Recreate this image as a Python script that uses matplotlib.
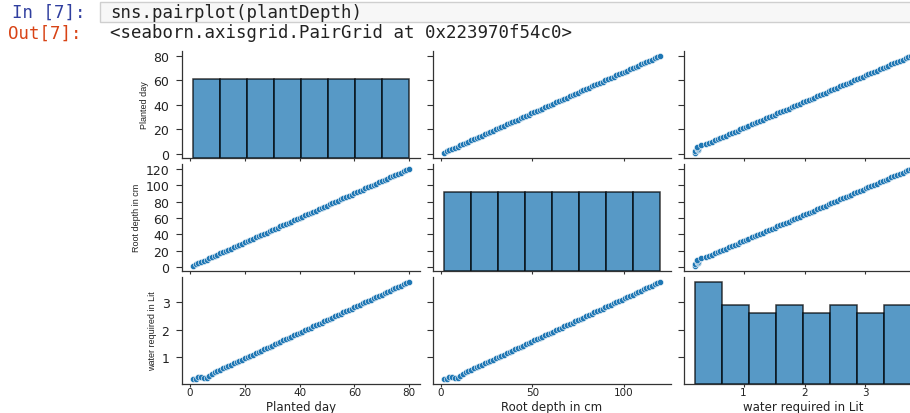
import matplotlib
matplotlib.use("Agg")
import matplotlib.pyplot as plt
from matplotlib.patches import Rectangle

# --- data ---
planted_day = [1, 2, 3, 4, 5, 6, 7, 8, 9, 10,
               11, 12, 13, 14, 15, 16, 17, 18, 19, 20,
               21, 22, 23, 24, 25, 26, 27, 28, 29, 30,
               31, 32, 33, 34, 35, 36, 37, 38, 39, 40,
               41, 42, 43, 44, 45, 46, 47, 48, 49, 50,
               51, 52, 53, 54, 55, 56, 57, 58, 59, 60,
               61, 62, 63, 64, 65, 66, 67, 68, 69, 70,
               71, 72, 73, 74, 75, 76, 77, 78, 79, 80]

root_depth = [1.5, 3.0, 4.5, 6.0, 7.5, 9.0, 10.5, 12.0, 13.5, 15.0,
              16.5, 18.0, 19.5, 21.0, 22.5, 24.0, 25.5, 27.0, 28.5, 30.0,
              31.5, 33.0, 34.5, 36.0, 37.5, 39.0, 40.5, 42.0, 43.5, 45.0,
              46.5, 48.0, 49.5, 51.0, 52.5, 54.0, 55.5, 57.0, 58.5, 60.0,
              61.5, 63.0, 64.5, 66.0, 67.5, 69.0, 70.5, 72.0, 73.5, 75.0,
              76.5, 78.0, 79.5, 81.0, 82.5, 84.0, 85.5, 87.0, 88.5, 90.0,
              91.5, 93.0, 94.5, 96.0, 97.5, 99.0, 100.5, 102.0, 103.5, 105.0,
              106.5, 108.0, 109.5, 111.0, 112.5, 114.0, 115.5, 117.0, 118.5, 120.0]

water_lit = [0.200, 0.205, 0.250, 0.255, 0.230, 0.235, 0.300,
             0.387, 0.434, 0.480, 0.527, 0.574, 0.620, 0.667, 0.714, 0.760, 0.807,
             0.854, 0.901, 0.947, 0.994, 1.041, 1.080, 1.134, 1.181, 1.228, 1.274,
             1.321, 1.368, 1.415, 1.461, 1.508, 1.555, 1.601, 1.648, 1.695, 1.741,
             1.788, 1.835, 1.881, 1.928, 1.968, 2.022, 2.068, 2.115, 2.162, 2.209,
             2.255, 2.302, 2.349, 2.395, 2.442, 2.489, 2.535, 2.582, 2.629, 2.676,
             2.722, 2.769, 2.816, 2.855, 2.909, 2.956, 3.003, 3.049, 3.096, 3.143,
             3.189, 3.236, 3.283, 3.330, 3.376, 3.423, 3.470, 3.516, 3.563, 3.610,
             3.657, 3.703, 3.750]

names = ["Planted day", "Root depth in cm", "water required in Lit"]
columns = [planted_day, root_depth, water_lit]
x_ticks = [[0, 20, 40, 60, 80], [0, 50, 100], [1, 2, 3]]
y_ticks = [[0, 20, 40, 60, 80], [0, 20, 40, 60, 80, 100, 120], [1, 2, 3]]

BLUE = "#1f77b4"
W, H = 910, 414

fig = plt.figure(figsize=(W / 100, H / 100), dpi=100)

# --- notebook cell header ---
fig.add_artist(Rectangle((100 / W, 1 - 23 / H), 815 / W, 20 / H,
                         transform=fig.transFigure, facecolor="#f7f7f7",
                         edgecolor="#cfcfcf", linewidth=1))
mono = "DejaVu Sans Mono"
fig.text(12 / W, 1 - 13 / H, "In [7]:", family=mono, size=12.5, color="#303F9F", va="center")
fig.text(110 / W, 1 - 13 / H, "sns.pairplot(plantDepth)", family=mono, size=12.5,
         color="#222222", va="center")
fig.text(8 / W, 1 - 33.5 / H, "Out[7]:", family=mono, size=12.5, color="#D84315", va="center")
fig.text(110 / W, 1 - 33.5 / H, "<seaborn.axisgrid.PairGrid at 0x223970f54c0>",
         family=mono, size=12.5, color="#222222", va="center")

# --- pair grid ---
col_left = [182, 433, 684]
row_top = [52, 165, 278]
aw, ah = 238, 106.5

axes = [[None] * 3 for _ in range(3)]
for r in range(3):
    for c in range(3):
        rect = [col_left[c] / W, 1 - (row_top[r] + ah) / H, aw / W, ah / H]
        ax = fig.add_axes(rect,
                          sharex=axes[0][c] if r > 0 else None,
                          sharey=axes[r][0] if c > 0 else None)
        axes[r][c] = ax

diag_axes = []
for r in range(3):
    for c in range(3):
        ax = axes[r][c]
        if r == c:
            dax = ax.twinx()
            dax.hist(columns[c], bins=8, color=BLUE, alpha=0.75,
                     edgecolor="black", linewidth=1.1)
            dax.set_axis_off()
            diag_axes.append(dax)
        else:
            ax.scatter(columns[c], columns[r], s=20, color=BLUE,
                       edgecolor="white", linewidth=0.4)

        for side in ["top", "right"]:
            ax.spines[side].set_visible(False)
        for side in ["left", "bottom"]:
            ax.spines[side].set_color("#333333")
            ax.spines[side].set_linewidth(0.9)
        ax.set_facecolor("none")

        ax.set_xticks(x_ticks[c])
        ax.set_yticks(y_ticks[r])
        ax.tick_params(axis="x", length=2, width=0.8, pad=0.5, labelsize=7.5,
                       colors="#333333", labelcolor="#222222", labelbottom=(r == 2))
        ax.tick_params(axis="y", length=4, width=0.8, pad=5, labelsize=9,
                       colors="#333333", labelcolor="#222222", labelleft=(c == 0))
        if r == 2:
            ax.set_xlabel(names[c], fontsize=8.5, color="#222222")
            # put the label baseline where the screenshot has it
            ax.xaxis.set_label_coords(0.5, -(410.6 - (row_top[r] + ah)) / ah)
            ax.xaxis.label.set_verticalalignment("baseline")
        if c == 0:
            ax.set_ylabel(names[r], family="Liberation Sans", fontsize=6.5,
                          labelpad=3, color="#222222")

# diagonal histograms share one count scale, like seaborn's diag_sharey
top = max(max(p.get_height() for p in d.patches) for d in diag_axes) * 1.05
for d in diag_axes:
    d.set_ylim(0, top)

fig.savefig("out.png", dpi=100)
